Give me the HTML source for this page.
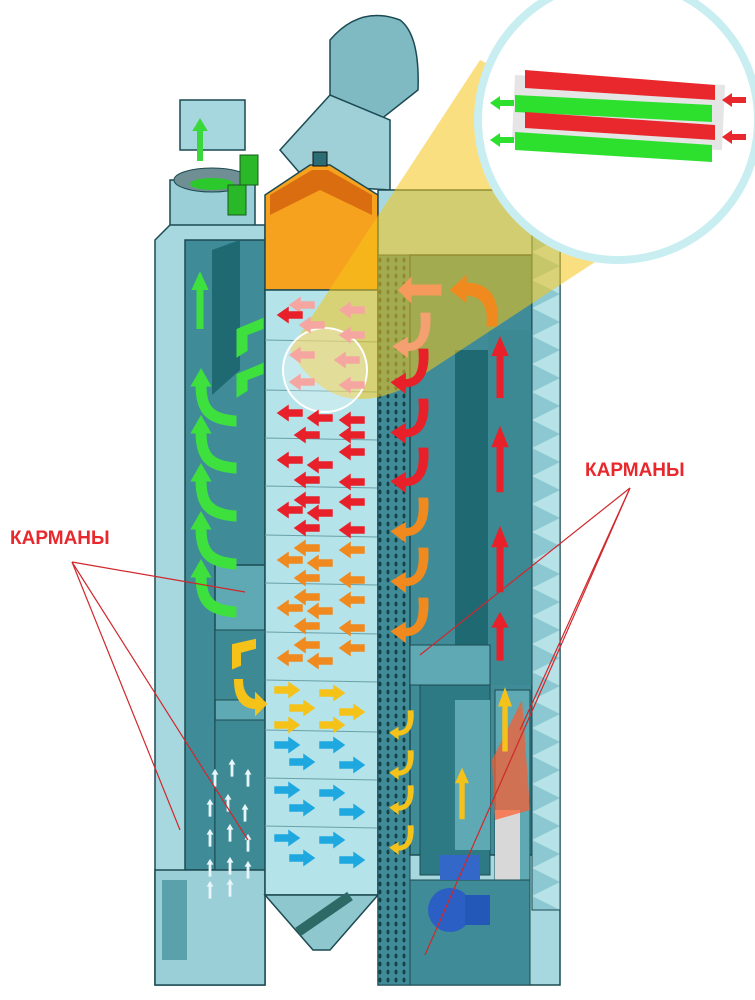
<!DOCTYPE html>
<html><head><meta charset="utf-8"><style>
html,body{margin:0;padding:0;background:#fff;}
svg{display:block}
text{font-family:"Liberation Sans",sans-serif;font-weight:bold}
</style></head><body>
<svg width="755" height="1000" viewBox="0 0 755 1000" xmlns="http://www.w3.org/2000/svg">
<defs>
<path id="aL" d="M0,0 L10,-7 L10,-3 L24,-3 L24,3 L10,3 L10,7 Z"/>
<path id="aR" d="M24,0 L14,-7 L14,-3 L0,-3 L0,3 L14,3 L14,7 Z"/>
<path id="aU" d="M0,0 L-6,10 L-2,10 L-2,40 L2,40 L2,10 L6,10 Z"/>
<path id="gL" d="M0,0 C0,20 5,30 30,32 L30,40 C0,38 -8,25 -8,0 L-12,0 L-4,-14 L4,0 Z"/>
<path id="cR" d="M30,-40 C32,-10 20,0 5,0 L5,6 L-8,-4 L5,-12 L5,-6 C18,-6 24,-15 22,-40 Z"/>
<pattern id="perfP" width="8" height="8" patternUnits="userSpaceOnUse"><rect width="8" height="8" fill="#3f8c98"/><ellipse cx="4" cy="4" rx="1.5" ry="2.5" fill="#143f46"/></pattern>
<pattern id="diaP" width="28" height="28" patternUnits="userSpaceOnUse"><rect width="28" height="28" fill="#b7e2e8"/><path d="M0,0 L28,14 L0,28 Z" fill="#8cc8d1"/></pattern>
</defs>
<rect width="755" height="1000" fill="#fff"/>
<!-- elevator top -->
<path d="M330,95 L330,40 Q360,5 400,20 Q420,35 418,90 L380,120 L350,110 Z" fill="#7fb9c2" stroke="#1c4a52" stroke-width="1.5"/>
<path d="M280,150 L330,95 L390,120 L390,190 L310,185 Z" fill="#9fd0d8" stroke="#1c4a52" stroke-width="1.5"/>
<!-- left chimney -->
<rect x="180" y="100" width="65" height="50" fill="#a6d6de" stroke="#1c4a52" stroke-width="1.5"/>
<path d="M170,180 L255,180 L255,240 L170,240 Z" fill="#9acfd8" stroke="#1c4a52" stroke-width="1.5"/>
<ellipse cx="212" cy="180" rx="38" ry="12" fill="#6f8f95" stroke="#1c4a52"/>
<ellipse cx="212" cy="184" rx="22" ry="6" fill="#2cc92c"/>
<rect x="240" y="155" width="18" height="30" fill="#28b828" stroke="#1a5a1a"/>
<rect x="228" y="185" width="18" height="30" fill="#28b828" stroke="#1a5a1a"/>
<use href="#aU" transform="translate(200,120)" fill="#3ad83a" stroke="#3ad83a" stroke-width="2"/>
<!-- left column -->
<path d="M155,240 L170,225 L265,225 L265,985 L155,985 Z" fill="#a8d8df" stroke="#1c4a52" stroke-width="1.5"/>
<rect x="185" y="240" width="80" height="630" fill="#3f8c98" stroke="#1c4a52" stroke-width="1.5"/>
<path d="M212,250 L240,240 L240,370 L212,395 Z" fill="#1f6a72"/>
<rect x="215" y="565" width="50" height="305" fill="#5ea9b3" stroke="#1c4a52" stroke-width="1.5"/>
<rect x="215" y="630" width="50" height="70" fill="#3d8a95" stroke="#1c4a52"/>
<rect x="215" y="720" width="50" height="150" fill="#3d8a95" stroke="#1c4a52"/>
<rect x="155" y="870" width="110" height="115" fill="#9acfd8" stroke="#1c4a52" stroke-width="1.5"/>
<rect x="162" y="880" width="25" height="80" fill="#5aa1ab"/>
<!-- central column -->
<path d="M265,195 L310,165 L330,165 L378,195 L378,290 L265,290 Z" fill="#f7a21e" stroke="#1c4a52" stroke-width="1.5"/>
<path d="M270,195 L312,170 L328,170 L372,195 L372,215 L320,190 L270,215 Z" fill="#d96d10"/>
<rect x="313" y="152" width="14" height="14" fill="#2c6d75" stroke="#111"/>
<rect x="265" y="290" width="113" height="605" fill="#b4e3ea" stroke="#1c4a52" stroke-width="1.5"/>
<g stroke="#6aa0a8" stroke-width="1">
<line x1="265" y1="340" x2="378" y2="342"/><line x1="265" y1="390" x2="378" y2="392"/>
<line x1="265" y1="438" x2="378" y2="440"/><line x1="265" y1="486" x2="378" y2="488"/>
<line x1="265" y1="535" x2="378" y2="537"/><line x1="265" y1="583" x2="378" y2="585"/>
<line x1="265" y1="632" x2="378" y2="634"/><line x1="265" y1="680" x2="378" y2="682"/>
<line x1="265" y1="730" x2="378" y2="732"/><line x1="265" y1="778" x2="378" y2="780"/>
<line x1="265" y1="826" x2="378" y2="828"/>
</g>
<path d="M265,895 L378,895 L330,950 L313,950 Z" fill="#8fc7cf" stroke="#1c4a52" stroke-width="1.5"/>
<path d="M298,932 L350,896" stroke="#2d6a66" stroke-width="10"/>
<!-- right column -->
<path d="M378,190 L540,190 L560,210 L560,985 L378,985 Z" fill="#a8d8df" stroke="#1c4a52" stroke-width="1.5"/>
<rect x="378" y="255" width="32" height="730" fill="url(#perfP)" stroke="#1c4a52"/>
<rect x="410" y="255" width="122" height="600" fill="#3f8c98" stroke="#1c4a52" stroke-width="1.5"/>
<rect x="455" y="350" width="33" height="300" fill="#1f6a72"/>
<rect x="488" y="330" width="44" height="355" fill="#3c8893"/>
<rect x="532" y="210" width="28" height="700" fill="url(#diaP)" stroke="#1c4a52"/>
<rect x="410" y="645" width="80" height="40" fill="#5ea9b3" stroke="#1c4a52"/>
<rect x="420" y="685" width="70" height="190" fill="#2e7a84" stroke="#1c4a52"/>
<rect x="455" y="700" width="35" height="150" fill="#5ea9b3"/>
<rect x="495" y="690" width="35" height="190" fill="#5ea9b3" stroke="#1c4a52"/>
<rect x="495" y="810" width="25" height="70" fill="#d8d8d8"/>
<path d="M492,760 L522,700 L530,810 L495,820 Z" fill="#ff5a2a" opacity="0.7"/>
<rect x="410" y="880" width="120" height="105" fill="#3f8c98" stroke="#1c4a52"/>
<circle cx="450" cy="910" r="22" fill="#2b5fc4"/>
<rect x="465" y="895" width="25" height="30" fill="#2458b8"/>
<rect x="440" y="855" width="40" height="25" fill="#3367c8"/>
<!-- yellow beam -->
<path d="M480,60 L290,350 Q330,420 400,390 L720,180 Z" fill="#f5c518" opacity="0.55"/>
<circle cx="325" cy="370" r="42" fill="#fff" fill-opacity="0.25" stroke="#fff" stroke-width="2"/>
<!-- magnifier circle -->
<circle cx="618" cy="120" r="140" fill="#fff" stroke="#c9eef2" stroke-width="8"/>
<path d="M515,75 L725,85 L722,150 L512,140 Z" fill="#e5e5e5"/>
<path d="M525,70 L715,85 L715,100 L525,88 Z" fill="#e8282c"/>
<path d="M515,95 L712,105 L712,122 L515,112 Z" fill="#2ee02e"/>
<path d="M525,112 L715,125 L715,140 L525,128 Z" fill="#e8282c"/>
<path d="M515,132 L712,145 L712,162 L515,150 Z" fill="#2ee02e"/>
<use href="#aL" transform="translate(490,103)" fill="#2ee02e"/>
<use href="#aL" transform="translate(490,140)" fill="#2ee02e"/>
<use href="#aL" transform="translate(722,100)" fill="#e8282c"/>
<use href="#aL" transform="translate(722,137)" fill="#e8282c"/>
<!-- center arrows -->
<g stroke-width="1.5">
<g fill="#f6a6a0" stroke="#f6a6a0">
<use href="#aL" transform="translate(290,305)"/><use href="#aL" transform="translate(340,310)"/>
<use href="#aL" transform="translate(300,325)"/><use href="#aL" transform="translate(340,335)"/>
<use href="#aL" transform="translate(290,355)"/><use href="#aL" transform="translate(335,360)"/>
<use href="#aL" transform="translate(290,382)"/><use href="#aL" transform="translate(340,385)"/>
</g>
<g fill="#e8202a" stroke="#e8202a">
<use href="#aL" transform="translate(278,315)"/>
<use href="#aL" transform="translate(278,413)"/><use href="#aL" transform="translate(308,418)"/><use href="#aL" transform="translate(340,420)"/>
<use href="#aL" transform="translate(295,435)"/><use href="#aL" transform="translate(340,435)"/>
<use href="#aL" transform="translate(278,460)"/><use href="#aL" transform="translate(308,465)"/><use href="#aL" transform="translate(340,452)"/>
<use href="#aL" transform="translate(295,480)"/><use href="#aL" transform="translate(340,482)"/>
<use href="#aL" transform="translate(295,500)"/><use href="#aL" transform="translate(340,502)"/>
<use href="#aL" transform="translate(278,510)"/><use href="#aL" transform="translate(308,513)"/>
<use href="#aL" transform="translate(295,528)"/><use href="#aL" transform="translate(340,530)"/>
</g>
<g fill="#f08a1e" stroke="#f08a1e">
<use href="#aL" transform="translate(295,548)"/><use href="#aL" transform="translate(340,550)"/>
<use href="#aL" transform="translate(278,560)"/><use href="#aL" transform="translate(308,563)"/>
<use href="#aL" transform="translate(295,578)"/><use href="#aL" transform="translate(340,580)"/>
<use href="#aL" transform="translate(295,597)"/><use href="#aL" transform="translate(340,600)"/>
<use href="#aL" transform="translate(278,608)"/><use href="#aL" transform="translate(308,611)"/>
<use href="#aL" transform="translate(295,626)"/><use href="#aL" transform="translate(340,628)"/>
<use href="#aL" transform="translate(295,645)"/><use href="#aL" transform="translate(340,648)"/>
<use href="#aL" transform="translate(278,658)"/><use href="#aL" transform="translate(308,661)"/>
</g>
<g fill="#f5c21a" stroke="#f5c21a">
<use href="#aR" transform="translate(275,690)"/><use href="#aR" transform="translate(320,693)"/>
<use href="#aR" transform="translate(290,708)"/><use href="#aR" transform="translate(340,712)"/>
<use href="#aR" transform="translate(275,725)"/><use href="#aR" transform="translate(320,725)"/>
</g>
<g fill="#1fa8e0" stroke="#1fa8e0">
<use href="#aR" transform="translate(275,745)"/><use href="#aR" transform="translate(320,745)"/>
<use href="#aR" transform="translate(290,762)"/><use href="#aR" transform="translate(340,765)"/>
<use href="#aR" transform="translate(275,790)"/><use href="#aR" transform="translate(320,793)"/>
<use href="#aR" transform="translate(290,808)"/><use href="#aR" transform="translate(340,812)"/>
<use href="#aR" transform="translate(275,838)"/><use href="#aR" transform="translate(320,840)"/>
<use href="#aR" transform="translate(290,858)"/><use href="#aR" transform="translate(340,860)"/>
</g>
</g>
<!-- white-blue up arrows left -->
<g fill="#e8f6fb" stroke="#e8f6fb" stroke-width="3">
<use href="#aU" transform="translate(215,770) scale(0.4)"/><use href="#aU" transform="translate(232,760) scale(0.4)"/><use href="#aU" transform="translate(248,770) scale(0.4)"/>
<use href="#aU" transform="translate(210,800) scale(0.4)"/><use href="#aU" transform="translate(228,795) scale(0.4)"/><use href="#aU" transform="translate(245,805) scale(0.4)"/>
<use href="#aU" transform="translate(210,830) scale(0.4)"/><use href="#aU" transform="translate(230,825) scale(0.4)"/><use href="#aU" transform="translate(248,835) scale(0.4)"/>
<use href="#aU" transform="translate(210,860) scale(0.4)"/><use href="#aU" transform="translate(230,858) scale(0.4)"/><use href="#aU" transform="translate(248,862) scale(0.4)"/>
<use href="#aU" transform="translate(210,882) scale(0.4)"/><use href="#aU" transform="translate(230,880) scale(0.4)"/>
</g>
<!-- green arrows -->
<g fill="#3ee03e" stroke="#3ee03e" stroke-width="3">
<use href="#aU" transform="translate(200,275) scale(1,1.3)"/>
<use href="#gL" transform="translate(205,385)"/>
<use href="#gL" transform="translate(205,432)"/>
<use href="#gL" transform="translate(205,480)"/>
<use href="#gL" transform="translate(205,528)"/>
<use href="#gL" transform="translate(205,576)"/>
<path d="M238,330 L262,320 L262,328 L246,334 L246,350 L238,355 Z"/>
<path d="M238,375 L262,365 L262,373 L246,379 L246,390 L238,395 Z"/>
</g>
<!-- yellow curved -->
<g fill="#f5c21a" stroke="#f5c21a" stroke-width="2">
<path d="M233,645 L255,640 L255,648 L240,652 L240,665 L233,668 Z"/>
<path d="M235,680 L242,680 C242,695 250,700 256,700 L256,694 L266,704 L256,714 L256,708 C242,708 235,698 235,680 Z"/>
<use href="#cR" transform="translate(395,735) scale(0.6)"/><use href="#cR" transform="translate(395,775) scale(0.6)"/>
<use href="#cR" transform="translate(395,810) scale(0.6)"/><use href="#cR" transform="translate(395,850) scale(0.6)"/>
<use href="#aU" transform="translate(462,770) scale(0.9,1.2)"/>
<use href="#aU" transform="translate(505,690) scale(0.9,1.5)"/>
</g>
<!-- right curved arrows -->
<g fill="#e8202a" stroke="#e8202a" stroke-width="3">
<use href="#cR" transform="translate(400,386) scale(0.9)"/><use href="#cR" transform="translate(400,436) scale(0.9)"/>
<use href="#cR" transform="translate(400,485) scale(0.9)"/>
<use href="#aU" transform="translate(500,340) scale(1,1.4)"/>
<use href="#aU" transform="translate(500,430) scale(1,1.5)"/>
<use href="#aU" transform="translate(500,530) scale(1,1.5)"/>
<use href="#aU" transform="translate(500,615) scale(1,1.1)"/>
</g>
<g fill="#f08a1e" stroke="#f08a1e" stroke-width="3">
<use href="#cR" transform="translate(400,535) scale(0.9)"/><use href="#cR" transform="translate(400,585) scale(0.9)"/><use href="#cR" transform="translate(400,635) scale(0.9)"/>
<path d="M400,290 L410,280 L410,286 L440,286 L440,294 L410,294 L410,300 Z" fill="#f59a5a" stroke="#f59a5a"/>
<path d="M452,290 L465,278 L465,284 C490,284 498,300 496,325 L488,325 C490,305 482,294 465,294 L465,300 Z"/>
<use href="#cR" transform="translate(402,350) scale(0.9)" fill="#f5a070" stroke="#f5a070"/>
</g>
<!-- labels -->
<text x="10" y="544" font-size="19" fill="#e8282c">КАРМАНЫ</text>
<text x="585" y="476" font-size="19" fill="#e8282c">КАРМАНЫ</text>
<g stroke="#d0282c" stroke-width="1.2" fill="none">
<line x1="72" y1="562" x2="245" y2="592"/>
<line x1="72" y1="562" x2="180" y2="830"/>
<line x1="72" y1="562" x2="248" y2="840"/>
<line x1="630" y1="488" x2="420" y2="655"/>
<line x1="630" y1="488" x2="520" y2="730"/>
<line x1="630" y1="488" x2="425" y2="955"/>
</g>
</svg>
</body></html>
